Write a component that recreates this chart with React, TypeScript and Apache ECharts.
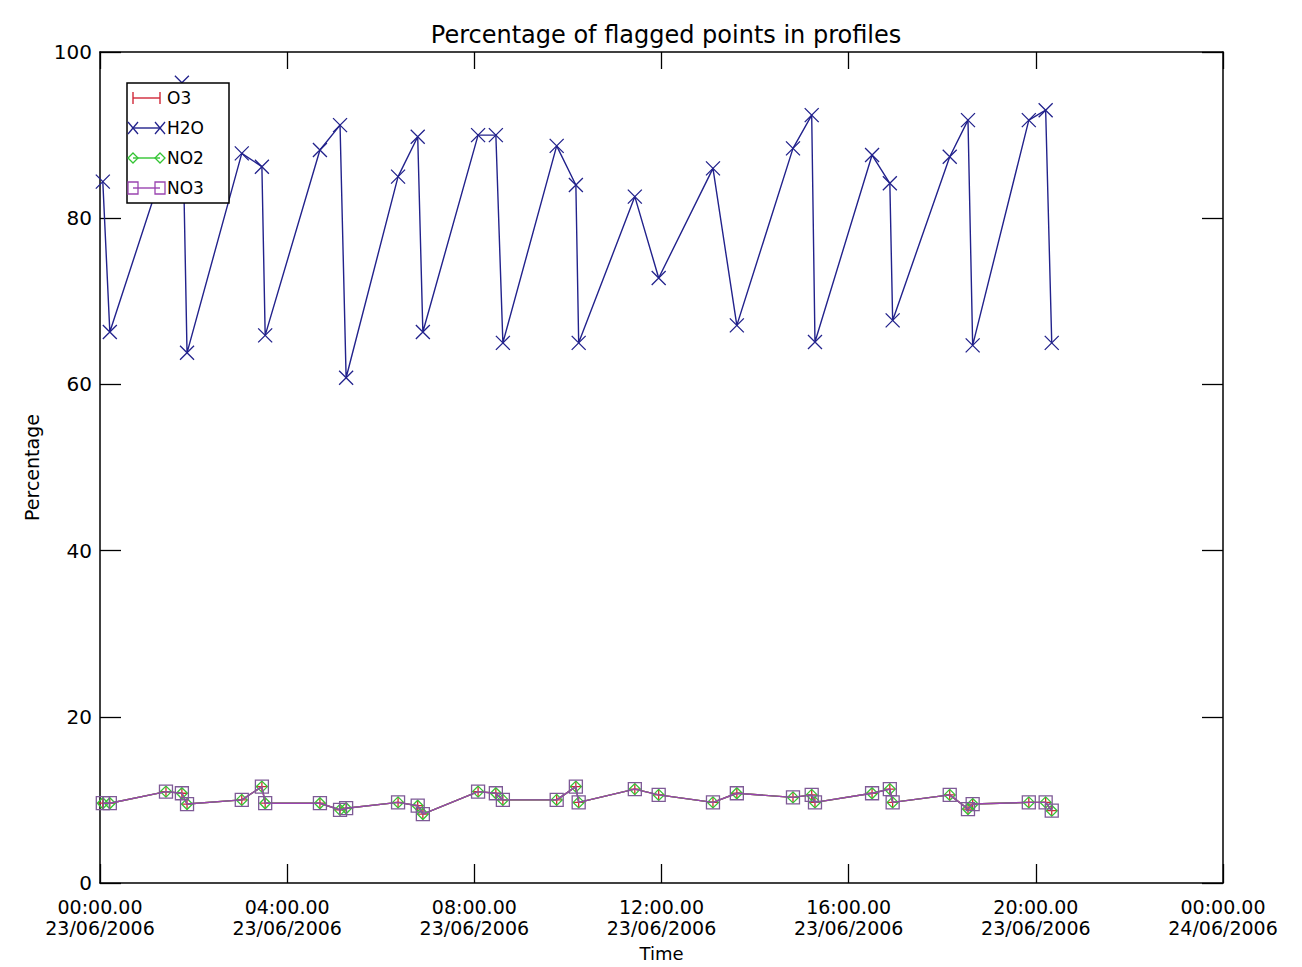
import React, { useEffect, useRef } from "react";
import * as echarts from "echarts";

// Time of each profile, in hours since 00:00 23/06/2006
const hours = [0.06, 0.21, 1.41, 1.75, 1.86, 3.03, 3.46, 3.53, 4.7, 5.13, 5.26, 6.37, 6.79, 6.9, 8.08, 8.46, 8.61, 9.76, 10.17, 10.23, 11.43, 11.94, 13.1, 13.61, 14.81, 15.21, 15.28, 16.5, 16.88, 16.94, 18.16, 18.55, 18.65, 19.85, 20.21, 20.34];

const h2o = [84.4, 66.3, 87.0, 96.3, 63.8, 87.8, 86.2, 65.9, 88.2, 91.2, 60.8, 85.0, 89.8, 66.3, 90.0, 90.0, 65.0, 88.7, 84.0, 65.0, 82.6, 72.8, 86.0, 67.1, 88.4, 92.4, 65.1, 87.6, 84.2, 67.7, 87.4, 91.8, 64.7, 91.8, 93.0, 65.0];
const o3 = [9.6, 9.6, 11.0, 10.8, 9.5, 10.0, 11.6, 9.6, 9.6, 8.8, 9.0, 9.7, 9.3, 8.3, 11.0, 10.8, 10.0, 10.0, 11.6, 9.7, 11.3, 10.6, 9.7, 10.8, 10.3, 10.6, 9.7, 10.8, 11.3, 9.7, 10.6, 8.9, 9.5, 9.7, 9.7, 8.7];
const no2 = [9.6, 9.6, 11.0, 10.8, 9.5, 10.0, 11.6, 9.6, 9.6, 8.8, 9.0, 9.7, 9.3, 8.3, 11.0, 10.8, 10.0, 10.0, 11.6, 9.7, 11.3, 10.6, 9.7, 10.8, 10.3, 10.6, 9.7, 10.8, 11.3, 9.7, 10.6, 8.9, 9.5, 9.7, 9.7, 8.7];
const no3 = [9.6, 9.6, 11.0, 10.8, 9.5, 10.0, 11.6, 9.6, 9.6, 8.8, 9.0, 9.7, 9.3, 8.3, 11.0, 10.8, 10.0, 10.0, 11.6, 9.7, 11.3, 10.6, 9.7, 10.8, 10.3, 10.6, 9.7, 10.8, 11.3, 9.7, 10.6, 8.9, 9.5, 9.7, 9.7, 8.7];

const seriesNames = ["O3", "H2O", "NO2", "NO3"];
const seriesColors = ["#d02838", "#22228c", "#33c433", "#9a44b0"];

const FONT = "DejaVu Sans";

const PLUS = "path://M5,0L5,10M0,5L10,5";
const CROSS = "path://M0,0L10,10M10,0L0,10";

function pad(n: number) {
  return n < 10 ? "0" + n : String(n);
}

export default function App() {
  const ref = useRef<HTMLDivElement>(null);

  useEffect(() => {
    if (!ref.current) return;
    const chart = echarts.init(ref.current, null, { renderer: "svg" });

    const mk = (vals: number[]) => hours.map((h, i) => [h, vals[i]]);

    const symbols = [PLUS, CROSS, "diamond", "rect"];
    const sizes = [11, 14, 11, 13];
    const borderCols = ["#d02838", "#22228c", "#33c433", "#7e5a96"];
    const datas = [o3, h2o, no2, no3];

    const series = seriesNames.map((name, k) => ({
      name,
      type: "line",
      data: mk(datas[k]),
      symbol: symbols[k],
      symbolSize: sizes[k],
      showSymbol: true,
      lineStyle: { color: seriesColors[k], width: 1.4 },
      itemStyle: { color: "none", borderColor: borderCols[k], borderWidth: 1.3 },
      emphasis: { disabled: true },
      z: 2 + k,
    }));

    // legend drawn IDL-style
    const Z = 100;
    const legendItems: any[] = [
      {
        type: "rect",
        z: Z,
        shape: { x: 127, y: 83, width: 102, height: 120 },
        style: { fill: "#fff", stroke: "#000", lineWidth: 1.5 },
      },
    ];
    seriesNames.forEach((name, k) => {
      const cy = 98 + k * 30;
      const c = seriesColors[k];
      const x1 = 133;
      const x2 = 160;
      legendItems.push({
        type: "line",
        z: Z + 1,
        shape: { x1, y1: cy, x2, y2: cy },
        style: { stroke: c, lineWidth: 1.4 },
      });
      [x1, x2].forEach((sx) => {
        if (k === 0) {
          legendItems.push({ type: "line", z: Z + 1, shape: { x1: sx, y1: cy - 6, x2: sx, y2: cy + 6 }, style: { stroke: c, lineWidth: 1.4 } });
        } else if (k === 1) {
          legendItems.push({ type: "line", z: Z + 1, shape: { x1: sx - 5, y1: cy - 6, x2: sx + 5, y2: cy + 6 }, style: { stroke: c, lineWidth: 1.3 } });
          legendItems.push({ type: "line", z: Z + 1, shape: { x1: sx - 5, y1: cy + 6, x2: sx + 5, y2: cy - 6 }, style: { stroke: c, lineWidth: 1.3 } });
        } else if (k === 2) {
          legendItems.push({
            type: "polygon",
            z: Z + 1,
            shape: { points: [[sx, cy - 5], [sx + 5, cy], [sx, cy + 5], [sx - 5, cy]] },
            style: { fill: "none", stroke: c, lineWidth: 1.3 },
          });
        } else {
          legendItems.push({
            type: "rect",
            z: Z + 1,
            shape: { x: sx - 5, y: cy - 6, width: 10, height: 12 },
            style: { fill: "none", stroke: c, lineWidth: 1.3 },
          });
        }
      });
      legendItems.push({
        type: "text",
        z: Z + 1,
        x: 167,
        y: cy,
        style: {
          text: name,
          fill: "#000",
          font: `17px '${FONT}'`,
          textVerticalAlign: "middle",
          textAlign: "left",
        },
      });
    });

    const axisLineStyle = { color: "#000", width: 1.5 };

    chart.setOption({
      animation: false,
      backgroundColor: "#fff",
      title: {
        text: "Percentage of flagged points in profiles",
        left: 661,
        textAlign: "center",
        top: 18,
        textStyle: { fontFamily: FONT, fontSize: 24, fontWeight: "normal", color: "#000" },
      },
      grid: { left: 100, top: 52, right: 79, bottom: 84, containLabel: false },
      xAxis: [
        {
          type: "value",
          min: 0,
          max: 24,
          interval: 4,
          position: "bottom",
          name: "Time",
          nameLocation: "middle",
          nameGap: 61,
          nameTextStyle: { fontFamily: FONT, fontSize: 18, color: "#000" },
          axisLine: { show: true, onZero: false, lineStyle: axisLineStyle },
          axisTick: { show: true, inside: true, length: 19, lineStyle: { color: "#000", width: 1.3 } },
          splitLine: { show: false },
          axisLabel: {
            margin: 13,
            fontFamily: FONT,
            fontSize: 19,
            lineHeight: 21,
            color: "#000",
            formatter: (v: number) => {
              const h = Math.round(v) % 24;
              const day = 23 + Math.floor(Math.round(v) / 24);
              return `${pad(h)}:00.00\n${day}/06/2006`;
            },
          },
        },
        {
          type: "value",
          min: 0,
          max: 24,
          interval: 4,
          position: "top",
          axisLine: { show: true, onZero: false, lineStyle: axisLineStyle },
          axisTick: { show: true, inside: true, length: 17, lineStyle: { color: "#000", width: 1.3 } },
          splitLine: { show: false },
          axisLabel: { show: false },
        },
      ],
      yAxis: [
        {
          type: "value",
          min: 0,
          max: 100,
          interval: 20,
          position: "left",
          name: "Percentage",
          nameLocation: "middle",
          nameGap: 59,
          nameTextStyle: { fontFamily: FONT, fontSize: 19, color: "#000" },
          axisLine: { show: true, onZero: false, lineStyle: axisLineStyle },
          axisTick: { show: true, inside: true, length: 21, lineStyle: { color: "#000", width: 1.3 } },
          splitLine: { show: false },
          axisLabel: { margin: 8, fontFamily: FONT, fontSize: 20, color: "#000" },
        },
        {
          type: "value",
          min: 0,
          max: 100,
          interval: 20,
          position: "right",
          axisLine: { show: true, onZero: false, lineStyle: axisLineStyle },
          axisTick: { show: true, inside: true, length: 21, lineStyle: { color: "#000", width: 1.3 } },
          splitLine: { show: false },
          axisLabel: { show: false },
        },
      ],
      series,
      graphic: { elements: [{ type: "group", z: Z, children: legendItems }] },
    });

    return () => chart.dispose();
  }, []);

  return (
    <div
      ref={ref}
      style={{ position: "fixed", left: 0, top: 0, width: 1302, height: 967, background: "#fff" }}
    />
  );
}
